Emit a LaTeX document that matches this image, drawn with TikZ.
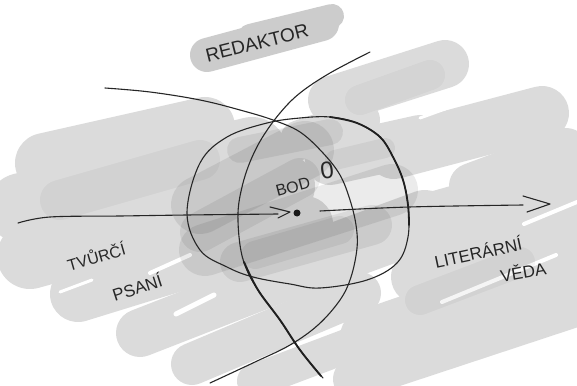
\documentclass[tikz,border=0pt]{standalone}
\usepackage{fontspec}
\setmainfont{Liberation Sans}
\begin{document}
\begin{tikzpicture}[x=1pt,y=-1pt,
  base/.style={draw=black!14, line cap=round},
  gap/.style={draw=white, line cap=round},
  shade/.style={draw=black, line cap=round, opacity=#1},
  pen/.style={draw=black!85, line width=1.1pt, line cap=round, line join=round},
  penbold/.style={draw=black!88, line width=1.9pt, line cap=round},
  hand/.style={text=black!85, inner sep=0pt}]
\useasboundingbox (0,0) rectangle (577,385);
\fill[white] (0,0) rectangle (577,385);
% ---- REDAKTOR cloud
\draw[draw=black!20, line cap=round, line width=34pt] (207,55) -- (322,24);
\draw[draw=black!20, line cap=round, line width=24pt] (250,36) -- (332,16);
% ---- left region
\draw[base, line width=60pt] (45,163) -- (205,127);
\draw[base, line width=70pt] (22,208) -- (252,152);
\draw[base, line width=66pt] (30,256) -- (282,186);
\draw[base, line width=56pt] (78,294) -- (305,224);
\draw[base, line width=48pt] (140,333) -- (335,257);
\draw[base, line width=42pt] (192,364) -- (360,293);
\draw[base, line width=34pt] (254,381) -- (392,329);
% ---- right region
\draw[base, line width=48pt] (332,100) -- (445,64);
\draw[base, line width=54pt] (394,152) -- (542,113);
\draw[base, line width=46pt] (472,186) -- (566,151);
\draw[base, line width=60pt] (412,228) -- (572,183);
\draw[base, line width=54pt] (418,277) -- (572,237);
\draw[base, line width=56pt] (368,337) -- (566,269);
\draw[base, line width=42pt] (354,379) -- (572,307);
% ---- middle, bridging both sides
\draw[base, line width=60pt] (330,255) -- (425,220);
\draw[base, line width=50pt] (330,160) -- (420,140);
\draw[base, line width=40pt] (300,140) -- (360,120);
% ---- thin white gaps
\draw[gap, line width=4pt] (150,273) -- (190,255);
\draw[gap, line width=5pt] (176,314) -- (214,295);
\draw[gap, line width=3pt] (60,292) -- (92,280);
\draw[gap, line width=4pt] (442,302) -- (556,255);
\draw[gap, line width=4pt] (524,224) -- (577,202);
\draw[gap, line width=3pt] (392,198) -- (404,190);
\draw[gap, line width=3pt] (420,118) -- (470,100);
% ---- variation inside the washes
\draw[shade=0.04, line width=40pt] (60,200) -- (200,160);
\draw[shade=0.04, line width=30pt] (420,300) -- (520,262);
\draw[shade=0.03, line width=30pt] (360,100) -- (430,75);
% ---- centre, darker
\draw[shade=0.08, line width=58pt] (200,205) -- (305,150);
\draw[shade=0.07, line width=40pt] (200,232) -- (300,178);
\draw[shade=0.08, line width=52pt] (205,250) -- (392,190);
\draw[shade=0.07, line width=40pt] (240,262) -- (372,225);
\draw[shade=0.06, line width=28pt] (255,255) -- (340,230);
\draw[shade=0.07, line width=26pt] (240,150) -- (330,132);
\draw[shade=0.05, line width=20pt] (335,160) -- (385,148);
% ---- circle
\draw[pen] plot[smooth cycle, tension=0.6] coordinates {
  (187,213) (200,163) (227,137) (267,123) (300,118) (330,117) (357,123)
  (380,137) (393,157) (403,180) (408,205) (408,237) (397,263) (367,280)
  (320,288) (290,284) (253,277) (227,267) (200,250)};
\draw[penbold, line width=1.8pt] plot[smooth, tension=0.6] coordinates {
  (330,117) (357,123) (380,137) (393,157) (403,180) (408,205) (409,225)};
% ---- vertical curve
\coordinate (vtop) at (370,52);
\coordinate (vbot) at (323,378);
\draw[pen] plot[smooth, tension=0.6] coordinates {
  (370,52) (330,73) (300,93) (280,113) (262,138) (250,162) (242,187)
  (238,213) (240,245) (246,268) (258,290) (280,320) (300,350) (323,378)};
\draw[penbold] plot[smooth, tension=0.6] coordinates {
  (244,262) (258,290) (280,320) (300,350) (321,376)};
% ---- curve from upper left
\coordinate (ctop) at (105,88);
\coordinate (cbot) at (210,383);
\draw[pen] plot[smooth, tension=0.6] coordinates {
  (105,88) (150,92) (200,100) (240,110) (273,120) (300,132) (323,153)
  (340,175) (350,200) (356,225) (357,248) (351,277) (340,300) (318,325)
  (290,345) (255,362) (210,383)};
% ---- point
\node[circle, fill=black!90, inner sep=0pt, minimum size=7pt] (dot) at (297,213) {};
% ---- left arrow into the point
\coordinate (lstart) at (18,223);
\coordinate (lend) at (278,214);
\coordinate (ltip) at (290,212);
\draw[pen] plot[smooth, tension=0.6] coordinates {(18,223) (50,217) (120,216) (187,215) (278,214)};
\draw[pen] (270,207) -- (ltip) -- (278,218);
% ---- right arrow out of the point
\coordinate (rstart) at (320,211);
\coordinate (rend) at (523,205);
\coordinate (rtip) at (550,204);
\draw[pen] plot[smooth, tension=0.6] coordinates {(rstart) (409,207) (523,205)};
\draw[pen] (523,196) -- (rtip) -- (527,212);
% ---- texts
\node[hand, rotate=14, font=\fontsize{19}{22}\selectfont] (red) at (257,43) {REDAKTOR};
\node[hand, rotate=15, font=\fontsize{16}{19}\selectfont] (bod) at (293,187) {BOD};
\node[hand, rotate=8, font=\fontsize{24}{26}\selectfont] (nula) at (327,170) {0};
\node[hand, rotate=16, font=\fontsize{16}{19}\selectfont] (tvur) at (96,256) {TVŮRČÍ};
\node[hand, rotate=18, font=\fontsize{17}{20}\selectfont] (psani) at (137,287) {PSANÍ};
\node[hand, rotate=12, font=\fontsize{17}{20}\selectfont] (lit) at (478,252) {LITERÁRNÍ};
\node[hand, rotate=10, font=\fontsize{17}{20}\selectfont] (veda) at (523,271) {VĚDA};
\end{tikzpicture}
\end{document}
